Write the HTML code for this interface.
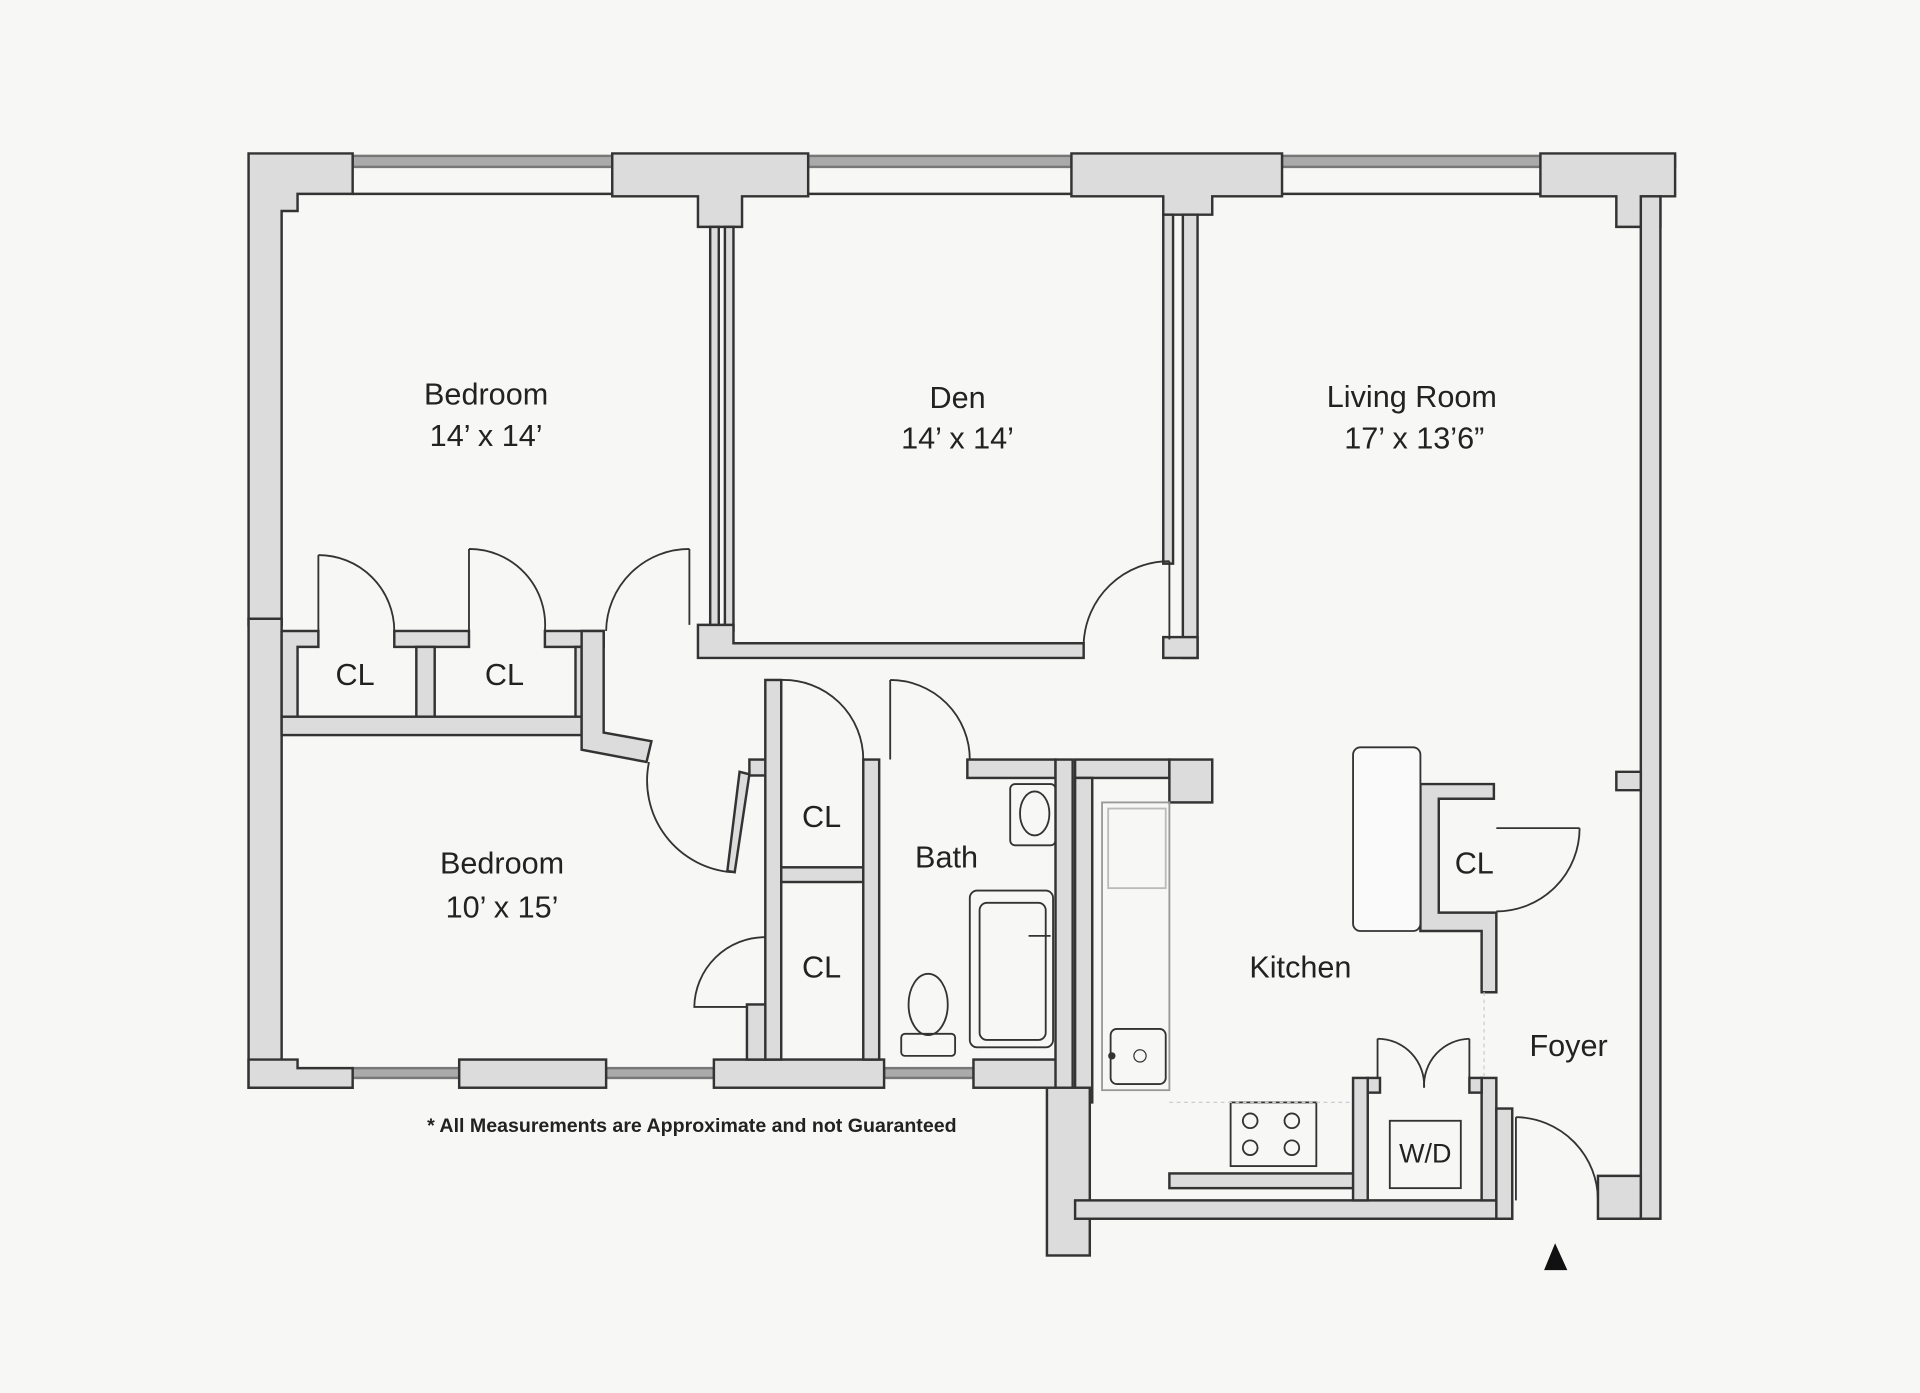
<!DOCTYPE html>
<html><head><style>
html,body{margin:0;padding:0;background:#f7f7f6;}
svg{display:block;}
text{font-family:"Liberation Sans",sans-serif;fill:#222;}
</style></head><body>
<svg width="1920" height="1393" viewBox="0 0 1568 1137" xmlns="http://www.w3.org/2000/svg">
<rect width="1568" height="1137" fill="#f7f7f6"/>
<g fill="#dcdcdc" stroke="#333" stroke-width="2">
<!-- windows top -->
<rect x="288" y="127" width="212" height="9" fill="#aaa" stroke="#777"/>
<rect x="660" y="127" width="215" height="9" fill="#aaa" stroke="#777"/>
<rect x="1047" y="127" width="211" height="9" fill="#aaa" stroke="#777"/>
<rect x="1356" y="127" width="12" height="9" fill="#aaa" stroke="#777"/>
<line x1="288" y1="158" x2="500" y2="158"/><line x1="660" y1="158" x2="875" y2="158"/><line x1="1047" y1="158" x2="1258" y2="158"/>
<!-- windows bottom -->
<rect x="288" y="872" width="87" height="8" fill="#aaa" stroke="#777"/>
<rect x="495" y="872" width="88" height="8" fill="#aaa" stroke="#777"/>
<rect x="722" y="872" width="73" height="8" fill="#aaa" stroke="#777"/>
<!-- outer left -->
<path d="M203 125 H288 V158 H243 V172 H230 V500 L230 510 H203 Z"/>
<path d="M203 505 H230 V888 H203 Z"/>
<path d="M203 865 H243 V872 H288 V888 H203 Z"/>
<rect x="375" y="865" width="120" height="23"/>
<rect x="583" y="865" width="139" height="23"/>
<rect x="795" y="865" width="80" height="23"/>
<!-- top piers -->
<path d="M500 125 H660 V160 H606 V185 H570 V160 H500 Z"/>
<path d="M875 125 H1047 V160 H990 V175 H950 V160 H875 Z"/>
<path d="M1258 125 H1368 V160 H1356 V185 H1320 V160 H1258 Z"/>
<!-- right wall -->
<rect x="1340" y="160" width="16" height="835"/>
<path d="M1320 630 H1340 V645 H1320 Z"/>
<path d="M1305 960 H1340 V995 H1305 Z"/>
<!-- bedroom/den walls -->
<rect x="580" y="185" width="7" height="330"/>
<rect x="592" y="185" width="7" height="330"/>
<path d="M570 510 H599 V525 H885 V537 H570 Z"/>
<rect x="950" y="175" width="8" height="285"/>
<rect x="966" y="175" width="12" height="362"/>
<rect x="950" y="520" width="28" height="17"/>
<!-- closets bedroom1 -->
<path d="M230 515 H260 V528 H243 V585 H230 Z"/>
<rect x="322" y="515" width="61" height="13"/>
<rect x="340" y="528" width="15" height="57"/>
<rect x="445" y="515" width="48" height="13"/>
<rect x="470" y="528" width="5" height="57"/>
<rect x="230" y="585" width="245" height="15"/>
<path d="M475 515 H493 V598 L532 605 L528 622 L475 612 Z"/>
<!-- door leaf -->
<path d="M604 630 L612 632 L600 712 L594 711 Z"/>
<!-- closets hall -->
<rect x="612" y="620" width="25" height="13"/>
<rect x="625" y="555" width="13" height="310"/>
<rect x="638" y="708" width="67" height="12"/>
<rect x="705" y="620" width="13" height="245"/>
<rect x="610" y="820" width="15" height="45"/>
<rect x="790" y="620" width="72" height="15"/>
<rect x="862" y="620" width="14" height="280"/>
<rect x="878" y="620" width="77" height="15"/>
<rect x="878" y="635" width="14" height="265"/>
<rect x="955" y="620" width="35" height="35"/>
<!-- kitchen lower -->
<rect x="855" y="888" width="35" height="137"/>
<rect x="878" y="980" width="357" height="15"/>
<rect x="955" y="958" width="155" height="12"/>
<rect x="1105" y="880" width="12" height="100"/>
<rect x="1210" y="880" width="12" height="100"/>
<rect x="1117" y="880" width="10" height="12"/>
<rect x="1200" y="880" width="10" height="12"/>
<rect x="1222" y="905" width="13" height="90"/>
<!-- CL near foyer -->
<path d="M1160 640 H1220 V652 H1175 V745 H1222 V810 H1210 V760 H1160 Z"/>
</g>
<g fill="none" stroke="#333" stroke-width="1.5">
<!-- door arcs -->
<path d="M260 453 V515 M260 453 A62 62 0 0 1 322 515"/>
<path d="M383 448 V515 M383 448 A62 62 0 0 1 445 515"/>
<path d="M563 448 V510 M563 448 A68 68 0 0 0 495 515"/>
<path d="M955 458 V522 M955 458 A70 70 0 0 0 885 525"/>
<path d="M530 622 A75 75 0 0 0 598 712"/>
<path d="M638 555 V620 M638 555 A65 65 0 0 1 705 620"/>
<path d="M727 555 V620 M727 555 A65 65 0 0 1 792 620"/>
<path d="M625 765 V820 M625 765 A58 58 0 0 0 567 822 H610"/>
<path d="M1222 676 H1290 M1290 676 A68 68 0 0 1 1222 744"/>
<path d="M1125 848 V880 M1125 848 A38 38 0 0 1 1163 888"/>
<path d="M1200 848 V880 M1200 848 A38 38 0 0 0 1163 888"/>
<path d="M1238 912 V980 M1238 912 A68 68 0 0 1 1305 980"/>
<!-- kitchen fixtures -->
<rect x="1105" y="610" width="55" height="150" rx="6" fill="#fafafa"/>
<rect x="900" y="655" width="55" height="235" stroke="#999"/>
<rect x="905" y="660" width="47" height="65" stroke="#bbb"/>
<rect x="907" y="840" width="45" height="45" rx="5"/>
<rect x="1005" y="900" width="70" height="52"/>
<circle cx="1021" cy="915" r="6"/><circle cx="1055" cy="915" r="6"/><circle cx="1021" cy="937" r="6"/><circle cx="1055" cy="937" r="6"/>
<rect x="1135" y="915" width="58" height="55"/>
<!-- bath fixtures -->
<rect x="792" y="727" width="68" height="128" rx="6"/>
<rect x="800" y="737" width="54" height="112" rx="6"/>
<rect x="825" y="640" width="37" height="50" rx="4"/>
<ellipse cx="845" cy="664" rx="12" ry="18"/>
<ellipse cx="758" cy="820" rx="16" ry="25"/>
<rect x="736" y="844" width="44" height="18" rx="3"/>
<line x1="840" y1="764" x2="858" y2="764"/>
</g>
<g stroke="#ccc" stroke-width="1" stroke-dasharray="3 3" fill="none">
<line x1="955" y1="900" x2="1105" y2="900"/><line x1="1212" y1="810" x2="1212" y2="880"/>
</g>
<circle cx="908" cy="862" r="3" fill="#333"/>
<circle cx="931" cy="862" r="5" fill="none" stroke="#333"/>
<polygon points="1270,1015 1261,1037 1280,1037" fill="#111"/>
<g font-size="25" text-anchor="middle">
<text x="397" y="330">Bedroom</text><text x="397" y="364">14’ x 14’</text>
<text x="782" y="333">Den</text><text x="782" y="366">14’ x 14’</text>
<text x="1153" y="332">Living Room</text><text x="1155" y="366">17’ x 13’6”</text>
<text x="290" y="559">CL</text><text x="412" y="559">CL</text>
<text x="410" y="713">Bedroom</text><text x="410" y="749">10’ x 15’</text>
<text x="671" y="675">CL</text><text x="671" y="798">CL</text>
<text x="773" y="708">Bath</text>
<text x="1204" y="713">CL</text>
<text x="1062" y="798">Kitchen</text>
<text x="1281" y="862">Foyer</text>
<text x="1164" y="949" font-size="22">W/D</text>
</g>
<text x="565" y="924" font-size="16" font-weight="bold" text-anchor="middle" fill="#333">* All Measurements are Approximate and not Guaranteed</text>
</svg>
</body></html>
